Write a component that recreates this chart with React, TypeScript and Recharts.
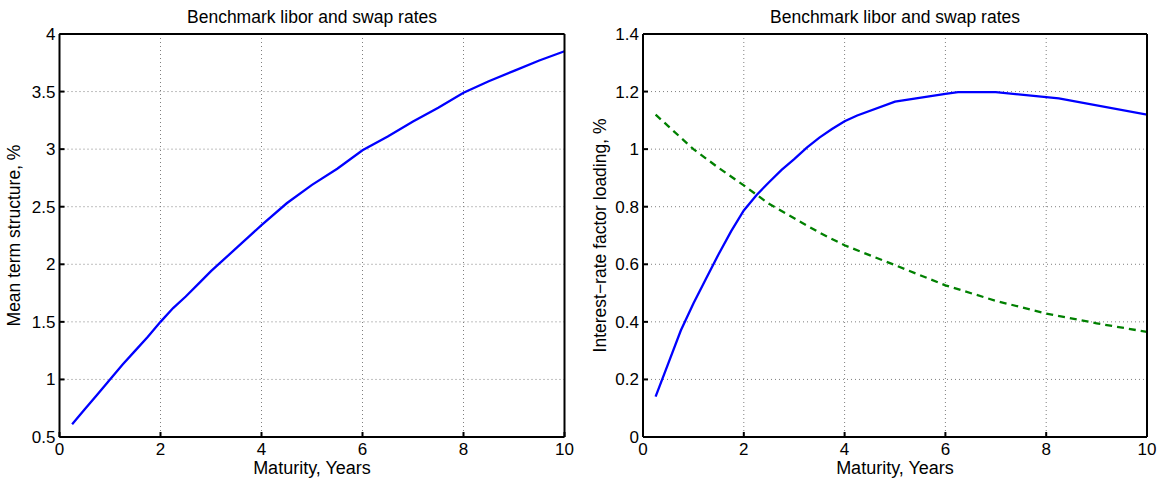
import React from "react";
import { LineChart, Line, XAxis, YAxis, CartesianGrid } from "recharts";

const TITLE = "Benchmark libor and swap rates";
const X_LABEL = "Maturity, Years";
const X_TICKS = [0, 2, 4, 6, 8, 10];

// left panel: mean term structure
const LEFT_Y_TICKS = [0.5, 1, 1.5, 2, 2.5, 3, 3.5, 4];
const termMaturity = [0.25, 0.5, 0.75, 1, 1.25, 1.5, 1.75, 2, 2.25, 2.5, 2.75, 3, 3.25, 3.5, 3.75, 4, 4.5, 5, 5.5, 6, 6.5, 7, 7.5, 8, 8.5, 9, 9.5, 10];
const termMean = [0.61, 0.74, 0.87, 1.0, 1.13, 1.25, 1.37, 1.5, 1.62, 1.72, 1.83, 1.94, 2.04, 2.14, 2.24, 2.34, 2.53, 2.69, 2.83, 2.99, 3.11, 3.24, 3.36, 3.49, 3.59, 3.68, 3.77, 3.85];

// right panel: factor loadings
const RIGHT_Y_TICKS = [0, 0.2, 0.4, 0.6, 0.8, 1, 1.2, 1.4];
const solidMaturity = [0.25, 0.5, 0.75, 1, 1.25, 1.5, 1.75, 2, 2.25, 2.5, 2.75, 3, 3.25, 3.5, 3.75, 4, 4.25, 5, 6, 6.25, 7, 8.25, 10];
const solidLoading = [0.14, 0.255, 0.37, 0.464, 0.55, 0.635, 0.715, 0.787, 0.84, 0.885, 0.928, 0.965, 1.005, 1.04, 1.07, 1.097, 1.117, 1.165, 1.192, 1.198, 1.198, 1.176, 1.12];
const dashedMaturity = [0.25, 0.5, 0.75, 1, 1.5, 2, 2.5, 3, 3.5, 4, 5, 6, 7, 8, 9, 10];
const dashedLoading = [1.12, 1.08, 1.04, 1.0, 0.935, 0.874, 0.81, 0.76, 0.71, 0.666, 0.597, 0.527, 0.473, 0.429, 0.395, 0.365];

const zip = (xs: number[], ys: number[]) => xs.map((m, i) => ({ m, v: ys[i] }));

const FONT = "'Liberation Sans', Arial, Helvetica, sans-serif";
const TICK = { fill: "#000", fontSize: 17, fontFamily: FONT };
const LABEL_STYLE = { fill: "#000", fontSize: 18, fontFamily: FONT };
const TITLE_STYLE = { fill: "#000", fontSize: 17.5, fontFamily: FONT };
const BOX = { stroke: "#000", strokeWidth: 2 };

function Panel({
  left,
  width,
  yWidth,
  rightMargin,
  yDomain,
  yTicks,
  yLabel,
  yLabelOffset,
  children,
}: any) {
  return (
    <div style={{ position: "absolute", left, top: 0 }}>
      <LineChart
        width={width}
        height={483}
        margin={{ top: 33, right: rightMargin, bottom: 0, left: 0 }}
      >
        <CartesianGrid stroke="#7f7f7f" strokeDasharray="1 3" strokeWidth={1} />
        <XAxis
          dataKey="m"
          type="number"
          domain={[0, 10]}
          ticks={X_TICKS}
          allowDataOverflow
          height={46}
          tick={TICK}
          tickSize={-5}
          tickMargin={11}
          tickLine={BOX}
          axisLine={BOX}
          label={{ value: X_LABEL, position: "insideBottom", offset: 9, style: LABEL_STYLE }}
        />
        <XAxis
          xAxisId="top"
          orientation="top"
          dataKey="m"
          type="number"
          domain={[0, 10]}
          ticks={X_TICKS}
          allowDataOverflow
          height={1}
          tick={false}
          tickSize={-5}
          tickLine={BOX}
          axisLine={BOX}
          label={{ value: TITLE, position: "top", offset: 10, style: TITLE_STYLE }}
        />
        <YAxis
          type="number"
          domain={yDomain}
          ticks={yTicks}
          allowDataOverflow
          width={yWidth}
          tick={TICK}
          tickSize={-5}
          tickMargin={9}
          tickLine={BOX}
          axisLine={BOX}
          label={{
            value: yLabel,
            angle: -90,
            position: "insideLeft",
            offset: yLabelOffset,
            style: { ...TITLE_STYLE, textAnchor: "middle" },
          }}
        />
        <YAxis
          yAxisId="right"
          orientation="right"
          type="number"
          domain={yDomain}
          ticks={yTicks}
          allowDataOverflow
          width={1}
          tick={false}
          tickSize={-5}
          tickLine={BOX}
          axisLine={BOX}
        />
        {children}
      </LineChart>
    </div>
  );
}

export default function App() {
  return (
    <div style={{ position: "absolute", left: 0, top: 0, width: 1165, height: 483, background: "#fff" }}>
      <Panel
        left={0}
        width={583}
        yWidth={59.5}
        rightMargin={17.5}
        yDomain={[0.5, 4]}
        yTicks={LEFT_Y_TICKS}
        yLabel="Mean term structure, %"
        yLabelOffset={13.5}
      >
        <Line
          data={zip(termMaturity, termMean)}
          dataKey="v"
          type="linear"
          stroke="#0000ff"
          strokeWidth={2.3}
          dot={false}
          isAnimationActive={false}
        />
      </Panel>
      <Panel
        left={583}
        width={582}
        yWidth={60}
        rightMargin={17}
        yDomain={[0, 1.4]}
        yTicks={RIGHT_Y_TICKS}
        yLabel="Interest−rate factor loading, %"
        yLabelOffset={17}
      >
        <Line
          data={zip(solidMaturity, solidLoading)}
          dataKey="v"
          type="linear"
          stroke="#0000ff"
          strokeWidth={2.3}
          dot={false}
          isAnimationActive={false}
        />
        <Line
          data={zip(dashedMaturity, dashedLoading)}
          dataKey="v"
          type="linear"
          stroke="#008000"
          strokeWidth={2.3}
          strokeDasharray="7 5"
          dot={false}
          isAnimationActive={false}
        />
      </Panel>
    </div>
  );
}
